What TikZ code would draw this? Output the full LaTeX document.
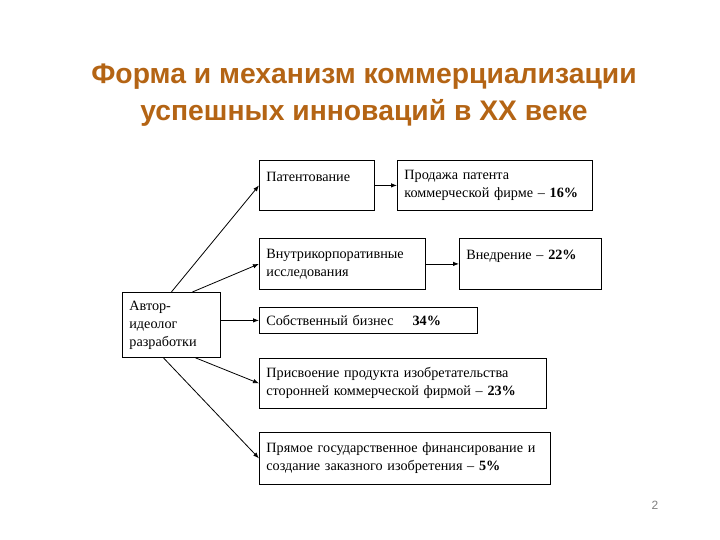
\documentclass[tikz,border=0pt]{standalone}
\usepackage{fontspec}
\setmainfont{Liberation Serif}
\newfontfamily\titlefont{Liberation Sans}
\definecolor{titlebrown}{RGB}{180,100,20}
\usetikzlibrary{arrows.meta}

\begin{document}
\begin{tikzpicture}[x=1pt, y=-1pt,
    blk/.style={draw, line width=0.8pt, anchor=north west, align=left,
        inner xsep=7pt, inner ysep=0pt, font=\fontsize{14.2}{18}\selectfont},
    arr/.style={-{Latex[length=6pt,width=4.5pt]}, line width=0.8pt}]
    \useasboundingbox (0,0) rectangle (720,540);

    % Title
    \node[font=\titlefont\bfseries\fontsize{28.3}{37}\selectfont, text=titlebrown, align=center] (title) at (364,95)
        {Форма и механизм коммерциализации\\успешных инноваций в XX веке};

    % Draw nodes
    \node[blk, text width=84pt, minimum height=65pt] (avt) at (122,292) {Автор-\\идеолог\\разработки};
    \node[blk, text width=101pt, minimum height=50pt] (pat) at (259,160) {Патентование\\~};
    \node[blk, text width=181pt, minimum height=50pt] (prod) at (397,160) {Продажа патента\\коммерческой фирме -- \textbf{16\%}};
    \node[blk, text width=152pt, minimum height=51pt] (vnut) at (259,238) {Внутрикорпоративные\\исследования};
    \node[blk, text width=128pt, minimum height=51pt] (vned) at (459,238) {Внедрение -- \textbf{22\%}\\~};
    \node[blk, text width=204pt, minimum height=26pt] (sob) at (259,307) {Собственный бизнес \quad\textbf{34\%}};
    \node[blk, text width=273pt, minimum height=50pt] (pris) at (259,358) {Присвоение продукта изобретательства\\сторонней коммерческой фирмой -- \textbf{23\%}};
    \node[blk, text width=277pt, minimum height=52pt] (pryam) at (259,432) {Прямое государственное финансирование и\\создание заказного изобретения -- \textbf{5\%}};

    % Draw connections
    \draw[arr] (pat) -- (prod);
    \draw[arr] (vnut) -- (vned);
    \draw[arr] (avt.east |- sob) -- (sob);
    \draw[arr] (avt.north) -- (pat.west);
    \draw[arr] ([xshift=21pt]avt.north) -- (vnut.west);
    \draw[arr] ([xshift=24pt]avt.south) -- (pris.west);
    \draw[arr] ([xshift=-8pt]avt.south) -- (pryam.west);

    % Page number
    \node[font=\titlefont\fontsize{12}{14}\selectfont, text=gray] (page) at (655,505) {2};
\end{tikzpicture}
\end{document}
